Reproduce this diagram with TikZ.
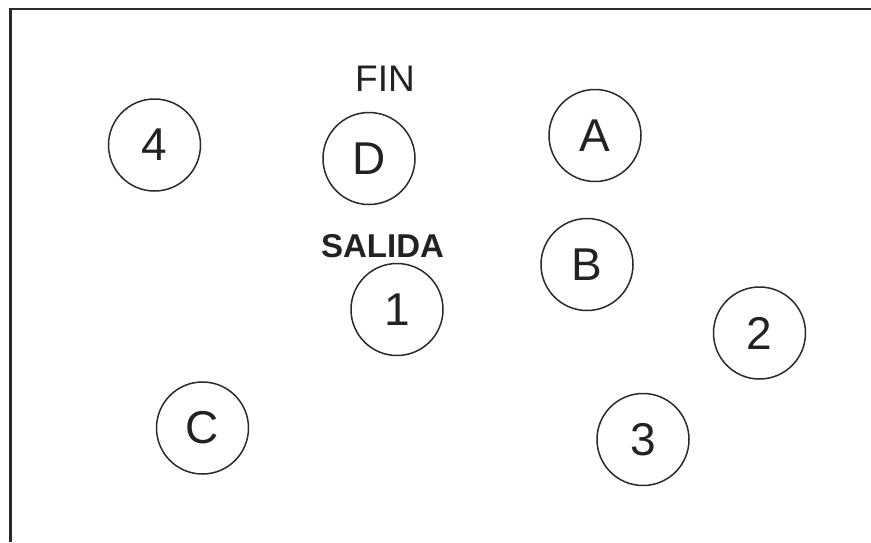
\documentclass[tikz,border=0pt]{standalone}
\usepackage{fontspec}
\setmainfont{Liberation Sans}
\definecolor{ink}{HTML}{222222}
\definecolor{rim}{HTML}{2A2A2A}
\begin{document}
\begin{tikzpicture}[x=1pt,y=-1pt,
  spot/.style={circle, draw=rim, line width=1.5pt, minimum size=92pt, inner sep=0pt,
    text=ink, font=\fontsize{46}{46}\selectfont},
  tag/.style={inner sep=0pt, text=ink}]
\useasboundingbox (0,0) rectangle (871,542);
\fill[white] (0,0) rectangle (871,542);
\coordinate (tl) at (10.5,9);
\coordinate (tr) at (871,9);
\coordinate (bl) at (10.5,542);
\draw[rim, line width=2.6pt] (bl) -- (tl) -- (tr);
\node[spot] (n4) at (154.5,145) {4};
\node[spot] (nD) at (369,158.5) {D};
\node[spot] (nA) at (595,135.5) {A};
\node[spot] (nB) at (587,264.5) {B};
\node[spot] (n1) at (397,309.5) {1};
\node[spot] (n2) at (759.5,333) {2};
\node[spot] (nC) at (202.5,428) {C};
\node[spot] (n3) at (643,439.5) {3};
\node[tag, font=\fontsize{37}{37}\selectfont] (fin) at (385,78.5) {FIN};
\node[tag, font=\fontsize{33}{33}\selectfont\bfseries] (salida) at (382.5,246.5) {SALIDA};
\end{tikzpicture}
\end{document}
